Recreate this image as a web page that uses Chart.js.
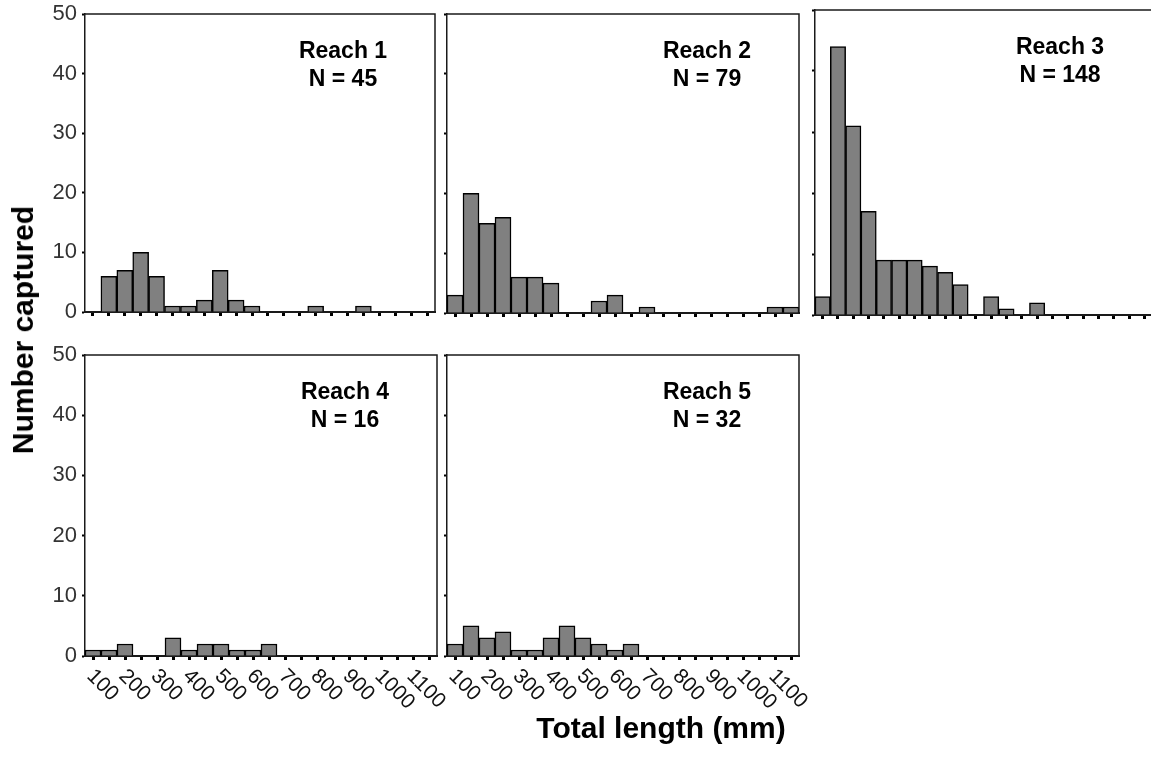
<!DOCTYPE html>
<html>
<head>
<meta charset="utf-8">
<title>Number captured by total length</title>
<script src="https://cdn.jsdelivr.net/npm/chart.js@4.4.1/dist/chart.umd.min.js"></script>
<style>
  html, body { margin: 0; padding: 0; background: #fff; overflow: hidden; }
  body { width: 1151px; height: 778px; position: relative; font-family: "Liberation Sans", Arial, sans-serif; }
  canvas { position: absolute; }
  .axis-title { position: absolute; font-weight: bold; font-size: 30px; color: #000; white-space: nowrap;
                transform: translate(-50%, -50%); }
  #yTitle { left: 23px; top: 330px; transform: translate(-50%, -50%) rotate(-90deg); }
  #xTitle { left: 661px; top: 728px; }
</style>
</head>
<body>
<canvas id="reach1"></canvas>
<canvas id="reach2"></canvas>
<canvas id="reach3"></canvas>
<canvas id="reach4"></canvas>
<canvas id="reach5"></canvas>
<div class="axis-title" id="yTitle">Number captured</div>
<div class="axis-title" id="xTitle">Total length (mm)</div>

<script>
// length classes (mm), one bar each
const binLabels = ["100", "150", "200", "250", "300", "350", "400", "450", "500", "550", "600",
                   "650", "700", "750", "800", "850", "900", "950", "1000", "1050", "1100", "1150"];
const xTickLabels = ["100", "200", "300", "400", "500", "600", "700", "800", "900", "1000", "1100"];
const yTickValues = [0, 10, 20, 30, 40, 50];

const reachNames = ["Reach 1", "Reach 2", "Reach 3", "Reach 4", "Reach 5"];
const reachN = [45, 79, 148, 16, 32];

const reach1 = [0, 6, 7, 10, 6, 1, 1, 2, 7, 2, 1, 0, 0, 0, 1, 0, 0, 1, 0, 0, 0, 0];
const reach2 = [3, 20, 15, 16, 6, 6, 5, 0, 0, 2, 3, 0, 1, 0, 0, 0, 0, 0, 0, 0, 1, 1];
const reach3 = [3, 44, 31, 17, 9, 9, 9, 8, 7, 5, 0, 3, 1, 0, 2, 0, 0, 0, 0, 0, 0, 0];
const reach4 = [1, 1, 2, 0, 0, 3, 1, 2, 2, 1, 1, 2, 0, 0, 0, 0, 0, 0, 0, 0, 0, 0];
const reach5 = [2, 5, 3, 4, 1, 1, 3, 5, 3, 2, 1, 2, 0, 0, 0, 0, 0, 0, 0, 0, 0, 0];

const reachCounts = [reach1, reach2, reach3, reach4, reach5];

// where each plot area sits on the page
const panels = [
  { id: "reach1", left: 85,  right: 435,  top: 14,  bottom: 312, yLabels: true,  xLabels: false, padRight: 5 },
  { id: "reach2", left: 447, right: 799,  top: 14,  bottom: 313, yLabels: false, xLabels: false, padRight: 5 },
  { id: "reach3", left: 815, right: 1152, top: 10,  bottom: 315, yLabels: false, xLabels: false, padRight: 5 },
  { id: "reach4", left: 85,  right: 437,  top: 355, bottom: 656, yLabels: true,  xLabels: true,  padRight: 25 },
  { id: "reach5", left: 447, right: 799,  top: 355, bottom: 656, yLabels: false, xLabels: true,  padRight: 25 }
];

const FONT = '"Liberation Sans", Arial, sans-serif';
const AXIS_W = 50;
const PAD_TOP = 24;

// frame top/right, reach labels, slanted length labels
const panelDecor = {
  id: "panelDecor",
  afterDraw(chart, args, opts) {
    const { ctx, chartArea: a } = chart;
    ctx.save();
    ctx.strokeStyle = "#1a1a1a";
    ctx.lineWidth = 1.5;
    ctx.beginPath();
    ctx.moveTo(a.left, a.top);
    ctx.lineTo(a.right, a.top);
    ctx.lineTo(a.right, a.bottom);
    ctx.stroke();

    ctx.fillStyle = "#000";
    ctx.textAlign = "center";
    ctx.textBaseline = "middle";
    ctx.font = "bold 23px " + FONT;
    ctx.fillText(opts.name, a.right - 92, a.top + 38);
    ctx.fillText("N = " + opts.n, a.right - 92, a.top + 66);

    if (opts.showX) {
      const xs = chart.scales.x;
      ctx.font = "21px " + FONT;
      ctx.textAlign = "left";
      ctx.fillStyle = "#111";
      xTickLabels.forEach(lbl => {
        const px = xs.getPixelForValue(binLabels.indexOf(lbl));
        ctx.save();
        ctx.translate(px - 3, a.bottom + 17);
        ctx.rotate(Math.PI / 4);
        ctx.fillText(lbl, 0, 0);
        ctx.restore();
      });
    }
    ctx.restore();
  }
};

panels.forEach((p, i) => {
  const xh = p.xLabels ? 64 : 26;
  const canvas = document.getElementById(p.id);
  canvas.width = p.right - p.left + AXIS_W + p.padRight;
  canvas.height = p.bottom - p.top + PAD_TOP + xh;
  canvas.style.left = (p.left - AXIS_W) + "px";
  canvas.style.top = (p.top - PAD_TOP) + "px";

  new Chart(canvas, {
    type: "bar",
    data: {
      labels: binLabels,
      datasets: [{
        data: reachCounts[i],
        backgroundColor: "#808080",
        borderColor: "#000",
        borderWidth: 1.5,
        barPercentage: 1,
        categoryPercentage: 1
      }]
    },
    options: {
      responsive: false,
      animation: false,
      events: [],
      layout: { padding: { left: 0, top: PAD_TOP, right: p.padRight, bottom: 0 } },
      plugins: {
        legend: { display: false },
        tooltip: { enabled: false },
        panelDecor: { name: reachNames[i], n: reachN[i], showX: p.xLabels }
      },
      scales: {
        x: {
          type: "category",
          offset: true,
          ticks: { display: false },
          grid: { drawOnChartArea: false, offset: false, tickLength: 4, tickWidth: 3, tickColor: "#000" },
          border: { color: "#1a1a1a", width: 2 },
          afterFit: s => { s.height = xh; }
        },
        y: {
          min: 0,
          max: 50,
          afterBuildTicks: s => { s.ticks = yTickValues.map(v => ({ value: v })); },
          ticks: { display: p.yLabels, color: "#333", padding: 5, font: { family: FONT, size: 22 } },
          grid: { drawOnChartArea: false, tickLength: 3, tickWidth: 2, tickColor: "#000" },
          border: { color: "#1a1a1a", width: 1.5 },
          afterFit: s => { s.width = AXIS_W; }
        }
      }
    },
    plugins: [panelDecor]
  });
});
</script>
</body>
</html>
